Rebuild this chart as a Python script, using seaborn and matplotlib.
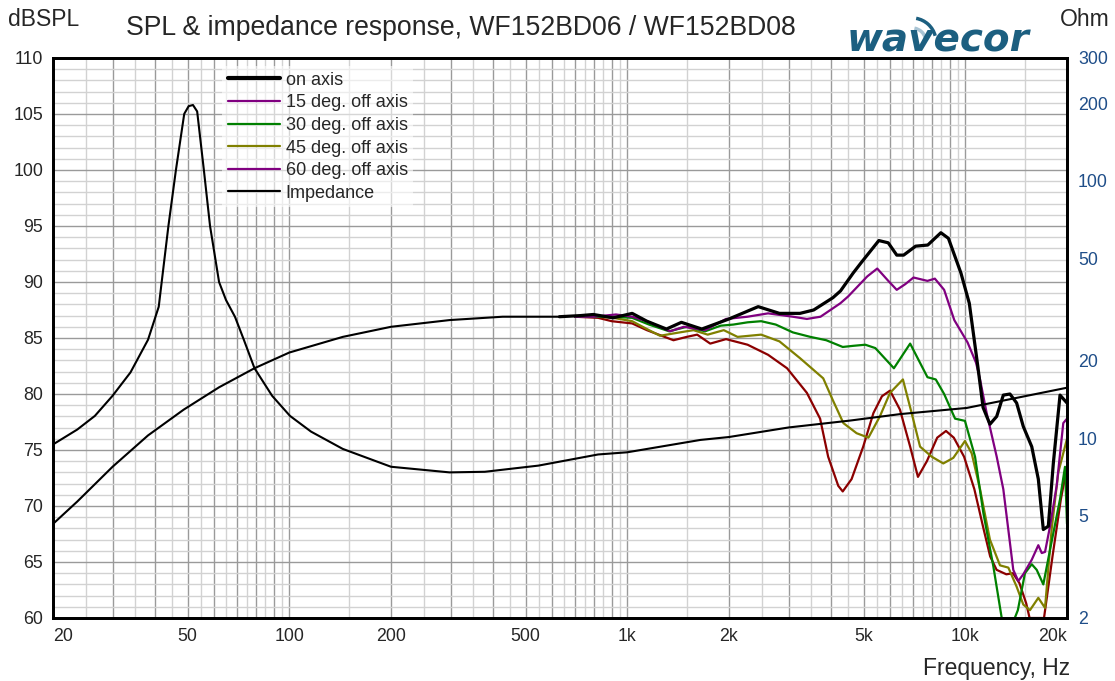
import matplotlib
matplotlib.use("Agg")
import matplotlib.pyplot as plt
import seaborn as sns
from matplotlib.lines import Line2D
from matplotlib.patches import Arc
from matplotlib.ticker import FixedLocator, FuncFormatter, NullLocator

# --- SPL below ~700 Hz (thin black, single curve) ---
lf_freq = [20, 23.6, 30, 38.2, 48.7, 62, 78.9, 100, 144, 200, 298, 428, 630]
lf_spl = [68.4, 70.4, 73.5, 76.3, 78.6, 80.6, 82.3, 83.7, 85.1, 86.0, 86.6, 86.9, 86.9]

# --- on axis ---
freq_0 = [630, 726, 794, 908, 1034, 1143, 1306, 1446, 1662, 2000, 2440, 2820, 3244, 3560,
          4060, 4274, 4660, 4914, 5550, 5916, 6272, 6572, 7132, 7746, 8470, 8916, 9710,
          10280, 10890, 11290, 11830, 12390, 12960, 13560, 14190, 14850, 15730, 16450,
          17020, 17610, 18220, 19070, 20000]
spl_0 = [86.9, 87.0, 87.1, 86.8, 87.2, 86.5, 85.8, 86.4, 85.8, 86.7, 87.8, 87.2, 87.2, 87.5,
         88.6, 89.2, 90.8, 91.7, 93.7, 93.5, 92.4, 92.4, 93.2, 93.3, 94.4, 93.9, 90.8,
         88.1, 82.5, 78.8, 77.3, 78.0, 79.9, 80.0, 79.2, 77.1, 75.3, 72.4,
         67.9, 68.2, 73.8, 79.9, 79.2]

# --- 15 deg ---
freq_15 = [700, 794, 926, 1034, 1143, 1340, 1470, 1700, 1960, 2270, 2610, 3090, 3400, 3730,
           4270, 4500, 4910, 5130, 5490, 5920, 6270, 6640, 7030, 7730, 8130, 8660, 9280,
           10160, 10760, 11060, 11570, 12390, 12960, 13560, 13870, 14350, 14850, 15730,
           16450, 16840, 17220, 17820, 18640, 19500, 20000]
spl_15 = [86.9, 86.9, 87.1, 86.9, 86.5, 85.6, 86.0, 85.7, 86.7, 86.9, 87.2, 86.9, 86.7, 86.9,
          88.1, 88.7, 89.9, 90.5, 91.2, 90.1, 89.3, 89.8, 90.4, 90.1, 90.3, 89.3, 86.6,
          84.6, 82.8, 81.3, 78.3, 74.4, 71.5, 66.7, 64.3, 63.3, 63.9, 65.2,
          66.5, 65.8, 65.9, 68.2, 71.8, 77.4, 77.8]

# --- 30 deg ---
freq_30 = [700, 794, 908, 1034, 1160, 1330, 1500, 1700, 1890, 2060, 2270, 2490, 2750, 3090,
           3480, 3880, 4340, 4660, 5060, 5420, 6150, 6870, 7730, 8180, 8660, 9330, 9980,
           10690, 11310, 12110, 12900, 13600, 14310, 15020, 15730, 16270, 17020, 17820,
           19070, 19730, 20000]
spl_30 = [86.9, 86.9, 86.9, 86.8, 86.2, 85.6, 86.0, 85.6, 86.1, 86.2, 86.4, 86.5, 86.2, 85.5,
          85.1, 84.8, 84.2, 84.3, 84.4, 84.1, 82.3, 84.5, 81.5, 81.3, 80.0, 77.8, 77.6,
          74.4, 69.4, 64.6, 59.5, 59.0, 60.7, 64.0, 64.8, 64.3, 63.0, 66.1,
          70.6, 73.5, 68.4]

# --- 45 deg ---
freq_45 = [700, 820, 908, 1034, 1160, 1250, 1430, 1570, 1730, 1930, 2120, 2490, 2820, 3244,
           3800, 4050, 4360, 4770, 5170, 5590, 5990, 6540, 6940, 7350, 7960, 8610, 9220,
           9980, 10450, 11060, 11830, 12670, 13410, 14190, 14850, 15540, 16450, 17220,
           18010, 18850, 20000]
spl_45 = [86.9, 86.9, 86.8, 86.5, 85.7, 85.2, 85.5, 85.7, 85.3, 85.7, 85.1, 85.3, 84.7, 83.2,
          81.4, 79.5, 77.4, 76.5, 76.1, 78.0, 80.1, 81.3, 78.3, 75.3, 74.4, 73.8, 74.3,
          75.8, 74.7, 71.5, 67.0, 64.7, 64.5, 62.8, 61.2, 60.7, 61.8, 60.9,
          67.9, 73.0, 76.0]

# --- 60 deg ---
freq_60 = [700, 820, 900, 1034, 1143, 1370, 1500, 1610, 1760, 1960, 2270, 2610, 2970, 3400,
           3720, 3930, 4210, 4340, 4610, 4990, 5350, 5670, 5990, 6410, 6870, 7245, 7700,
           8260, 8770, 9250, 9920, 10640, 11340, 11850, 12380, 13230, 13840, 14470,
           15150, 15500, 16300, 17100, 18120, 19180, 20000]
spl_60 = [86.9, 86.8, 86.5, 86.3, 85.7, 84.8, 85.1, 85.3, 84.5, 84.9, 84.4, 83.5, 82.3, 80.1,
          77.8, 74.4, 71.8, 71.3, 72.4, 75.3, 78.3, 79.8, 80.3, 78.6, 75.3, 72.6, 74.0,
          76.1, 76.7, 76.1, 74.4, 71.5, 67.9, 65.5, 64.3, 63.9, 64.0, 63.1,
          61.3, 60.0, 60.0, 60.0, 65.5, 70.6, 73.5]

# --- impedance (Ohm, right axis) ---
imp_freq = [20, 23.6, 26.6, 30, 33.9, 38.2, 41.1, 43.9, 46.2, 48.9, 50.4, 51.9, 53.4, 55.9,
            58.3, 62.0, 65.0, 69.1, 73.4, 78.9, 89, 100.5, 116, 144, 200, 298, 379, 546,
            820, 1000, 1646, 2000, 3000, 4560, 6425, 10100, 20000]
imp_ohm = [9.45, 10.8, 12.2, 14.6, 18.0, 24.1, 32.4, 66.7, 110, 182, 195, 197, 186, 110,
           66.7, 40.4, 34.4, 29.6, 24.1, 18.7, 14.6, 12.2, 10.6, 9.08, 7.74, 7.36, 7.4, 7.82,
           8.64, 8.81, 9.84, 10.1, 11.0, 11.7, 12.4, 13.1, 15.7]

x_labels = {20: "20", 50: "50", 100: "100", 200: "200", 500: "500", 1000: "1k",
            2000: "2k", 5000: "5k", 10000: "10k", 20000: "20k"}
ohm_ticks = [2, 5, 10, 20, 50, 100, 200, 300]

PURPLE = "#800080"
GREEN = "#008000"
OLIVE = "#808000"
DARKRED = "#8b0000"
BLUE = "#1f4e89"

sns.set_style("white")
plt.rcParams["font.family"] = ["Liberation Sans", "DejaVu Sans"]

W, H = 1115, 681
fig = plt.figure(figsize=(W / 100, H / 100), dpi=100)
ax = fig.add_axes([53 / W, 1 - 618 / H, (1067 - 53) / W, 560 / H])
ax.set_xscale("log")
ax2 = ax.twinx()
ax2.set_yscale("log")

series = [
    (freq_60, spl_60, DARKRED, 1.6),
    (freq_45, spl_45, OLIVE, 1.6),
    (freq_30, spl_30, GREEN, 1.6),
    (freq_15, spl_15, PURPLE, 1.6),
    (lf_freq, lf_spl, "black", 1.5),
    (freq_0, spl_0, "black", 2.3),
]
for fx, fy, col, lw in series:
    sns.lineplot(x=fx, y=fy, ax=ax, color=col, linewidth=lw, estimator=None,
                 legend=False)
sns.lineplot(x=imp_freq, y=imp_ohm, ax=ax2, color="black", linewidth=1.5,
             estimator=None, legend=False)

ax.set_xlim(20, 20000)
ax.set_ylim(60, 110)
ax2.set_ylim(2, 300)

# grid: major = 1..9 per decade / 5 dB, minor = half steps / 1 dB
majors = [k * 10 ** d for d in range(1, 5) for k in range(1, 10)]
majors = [m for m in majors if 20 <= m <= 20000]
minors = [(k + 0.5) * 10 ** d for d in range(1, 5) for k in range(1, 10)]
minors = [m for m in minors if 20 <= m <= 20000]
ax.xaxis.set_major_locator(FixedLocator(majors))
ax.xaxis.set_minor_locator(FixedLocator(minors))
ax.xaxis.set_major_formatter(FuncFormatter(lambda v, p: x_labels.get(int(round(v)), "")))
ax.xaxis.set_minor_formatter(FuncFormatter(lambda v, p: ""))
ax.yaxis.set_major_locator(FixedLocator(list(range(60, 111, 5))))
ax.yaxis.set_minor_locator(FixedLocator(list(range(60, 111, 1))))
ax.set_yticklabels([str(v) for v in range(60, 111, 5)])

ax.set_axisbelow(True)
ax.grid(which="major", color="#9a9a9a", linewidth=1.0)
ax.grid(which="minor", color="#d2d2d2", linewidth=1.0)

ax.tick_params(axis="both", which="both", length=0, labelsize=12.8)
ax.tick_params(axis="x", pad=7)
ax.tick_params(axis="y", pad=7)
for lab in ax.get_xticklabels():
    if lab.get_text() == "20":
        lab.set_ha("left")
    elif lab.get_text() == "20k":
        lab.set_ha("right")

ax2.yaxis.set_major_locator(FixedLocator(ohm_ticks))
ax2.yaxis.set_minor_locator(NullLocator())
ax2.set_yticklabels([str(v) for v in ohm_ticks])
ax2.tick_params(axis="y", which="both", length=0, labelsize=12.8, pad=8,
                labelcolor=BLUE)
ax.set_xlabel("")
ax.set_ylabel("")
ax2.set_ylabel("")

for a in (ax, ax2):
    for s in a.spines.values():
        s.set_visible(True)
        s.set_color("black")
        s.set_linewidth(2.0)

handles = [
    Line2D([], [], color="black", linewidth=3.0),
    Line2D([], [], color=PURPLE, linewidth=1.6),
    Line2D([], [], color=GREEN, linewidth=1.6),
    Line2D([], [], color=OLIVE, linewidth=1.6),
    Line2D([], [], color=PURPLE, linewidth=1.6),
    Line2D([], [], color="black", linewidth=1.6),
]
labels = ["on axis", "15 deg. off axis", "30 deg. off axis", "45 deg. off axis",
          "60 deg. off axis", "Impedance"]
leg = ax2.legend(handles, labels, loc="upper left", bbox_to_anchor=(0.167, 0.985),
                 borderaxespad=0, fontsize=13, handlelength=2.9, handletextpad=0.3,
                 labelspacing=0.31, borderpad=0.3, frameon=True, fancybox=False,
                 facecolor="white", edgecolor="none", framealpha=0.6)

fig.text(8 / W, 1 - 20 / H, "dBSPL", fontsize=16.5, ha="left", va="center")
fig.text(461 / W, 1 - 28 / H, "SPL & impedance response, WF152BD06 / WF152BD08",
         fontsize=19.2, ha="center", va="center")
fig.text(1110 / W, 1 - 20 / H, "Ohm", fontsize=16.5, ha="right", va="center")
fig.text(1070 / W, 1 - 668 / H, "Frequency, Hz", fontsize=16.5, ha="right", va="center")

# logo
fig.text(938 / W, 1 - 40 / H, "wavecor", fontsize=28, fontweight="bold",
         fontstyle="italic", color="#1c5f80", ha="center", va="center",
         family="DejaVu Sans")
for r, col in ((0.14, "#a9c4d4"), (0.24, "#1c5f80")):
    fig.add_artist(Arc((9.12, (H - 42) / 100), 2 * r, 2 * r, theta1=15, theta2=80,
                       transform=fig.dpi_scale_trans, color=col, linewidth=2.5))

fig.savefig("out.png", dpi=100)
